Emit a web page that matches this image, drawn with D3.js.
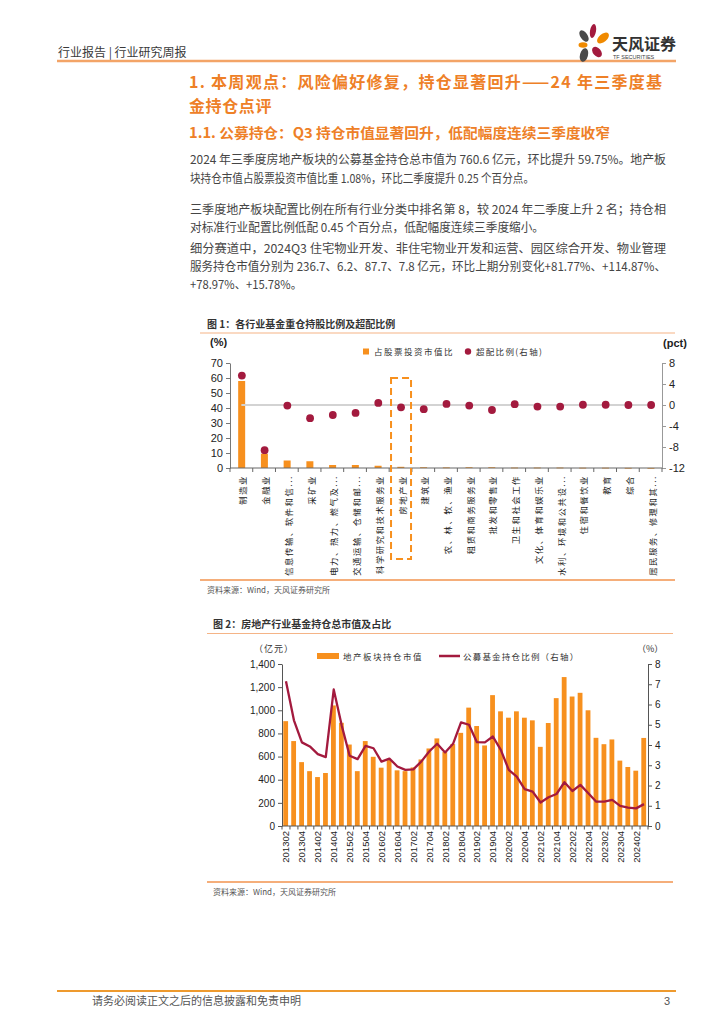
<!DOCTYPE html>
<html><head><meta charset="utf-8">
<script src="https://cdn.jsdelivr.net/npm/d3@7"></script>
<style>
html,body{margin:0;padding:0;background:#fff;}
svg{display:block;}
.cjk{font-family:"Noto Sans CJK SC","Noto Sans",sans-serif;}
.num{font-family:"Liberation Sans",Arial,sans-serif;}
</style></head>
<body>
<svg id="page" width="724" height="1024"></svg>
<script>
// ---------- DATA ----------
const industryCats = ["制造业","金融业","信息传输、软件和信...","采矿业","电力、热力、燃气及...","交通运输、仓储和邮...","科学研究和技术服务业","房地产业","建筑业","农、林、牧、渔业","租赁和商务服务业","批发和零售业","卫生和社会工作","文化、体育和娱乐业","水利、环境和公共设...","住宿和餐饮业","教育","综合","居民服务、修理和其..."];
const holdShare = [58, 9.5, 5, 4.5, 2, 2, 1.5, 0.8, 0.5, 0.4, 0.5, 0.5, 0.3, 0.3, 0.3, 0.2, 0.2, 0.1, 0.05];
const overweight = [5.6, -8.6, -0.1, -2.5, -1.9, -1.5, 0.4, -0.45, -0.8, 0.2, -0.1, -0.95, 0.15, -0.3, -0.3, 0.05, 0.05, 0.0, 0.0];
const leftTicks1 = [0,10,20,30,40,50,60,70];
const rightTicks1 = [-12,-8,-4,0,4,8];

const quarters = ["201302","201303","201304","201401","201402","201403","201404","201501","201502","201503","201504","201601","201602","201603","201604","201701","201702","201703","201704","201801","201802","201803","201804","201901","201902","201903","201904","202001","202002","202003","202004","202101","202102","202103","202104","202201","202202","202203","202204","202301","202302","202303","202304","202401","202402","202403"];
const reValue = [906,734,552,474,423,458,1042,892,704,474,734,598,504,570,481,474,506,575,670,757,639,708,805,1023,864,696,1131,991,936,991,936,913,684,890,1105,1287,1119,1151,1000,762,707,748,565,510,478,761];
const reRatio = [7.15,5.22,4.13,3.93,3.55,3.40,6.74,4.97,3.47,3.30,3.96,3.84,3.18,3.33,2.94,2.77,2.80,3.18,3.68,4.06,3.63,4.06,5.12,5.00,4.14,4.13,4.42,3.76,2.77,2.44,1.82,1.70,1.16,1.42,1.58,2.16,1.73,2.03,1.62,1.20,1.20,1.29,0.99,0.91,0.87,1.08];
const leftTicks2 = [0,200,400,600,800,1000,1200,1400];
const rightTicks2 = [0,1,2,3,4,5,6,7,8];

// ---------- COLORS ----------
const ORANGE = "#F7901E";
const DARKRED = "#A31A3E";
const HEAD = "#EE8027";

const svg = d3.select("#page");

// ---------- HEADER ----------
svg.append("text").attr("class","cjk").attr("x",58).attr("y",57).attr("font-size",12).attr("fill","#3a3a3a").text("行业报告 | 行业研究周报");
svg.append("line").attr("x1",57).attr("x2",676).attr("y1",61).attr("y2",61).attr("stroke","#F3A467").attr("stroke-width",2.5);
const petals = [
  {cx:584,cy:36,rx:3.5,ry:6.5,rot:-35,c:"#4a4a4a"},
  {cx:593,cy:31,rx:3,ry:7,rot:10,c:"#A31A3E"},
  {cx:603,cy:38,rx:4,ry:7,rot:50,c:"#F08A00"},
  {cx:583,cy:45,rx:4.5,ry:2.8,rot:0,c:"#F08A00"},
  {cx:584,cy:55,rx:4,ry:7,rot:15,c:"#4a4a4a"},
  {cx:597,cy:52,rx:4,ry:6,rot:-40,c:"#A31A3E"}
];
svg.selectAll(".petal").data(petals).enter().append("ellipse")
  .attr("cx",d=>d.cx).attr("cy",d=>d.cy).attr("rx",d=>d.rx).attr("ry",d=>d.ry)
  .attr("transform",d=>`rotate(${d.rot},${d.cx},${d.cy})`).attr("fill",d=>d.c);
svg.append("text").attr("class","cjk").attr("x",612).attr("y",50).attr("font-size",16).attr("font-weight","bold").attr("fill","#333").text("天风证券");
svg.append("text").attr("class","num").attr("x",613).attr("y",58.5).attr("font-size",5.5).attr("fill","#444").text("TF SECURITIES");

// ---------- HEADINGS ----------
svg.append("text").attr("class","cjk").attr("x",189).attr("y",88).attr("font-size",16).attr("font-weight","bold").attr("fill",HEAD)
  .attr("textLength",473).attr("lengthAdjust","spacing").text("1. 本周观点：风险偏好修复，持仓显著回升——24 年三季度基");
svg.append("text").attr("class","cjk").attr("x",189).attr("y",111.5).attr("font-size",16).attr("font-weight","bold").attr("fill",HEAD)
  .attr("letter-spacing",0.6).text("金持仓点评");
svg.append("text").attr("class","cjk").attr("x",189).attr("y",138).attr("font-size",14).attr("font-weight","bold").attr("fill",HEAD)
  .attr("textLength",421).attr("lengthAdjust","spacingAndGlyphs").text("1.1. 公募持仓：Q3 持仓市值显著回升，低配幅度连续三季度收窄");

// ---------- BODY ----------
const body = [
  {t:"2024 年三季度房地产板块的公募基金持仓总市值为 760.6 亿元，环比提升 59.75%。地产板", y:164, w:476},
  {t:"块持仓市值占股票投资市值比重 1.08%，环比二季度提升 0.25 个百分点。", y:183, w:344},
  {t:"三季度地产板块配置比例在所有行业分类中排名第 8，较 2024 年二季度上升 2 名；持仓相", y:214, w:476},
  {t:"对标准行业配置比例低配 0.45 个百分点，低配幅度连续三季度缩小。", y:232, w:354},
  {t:"细分赛道中，2024Q3  住宅物业开发、非住宅物业开发和运营、园区综合开发、物业管理", y:253, w:476},
  {t:"服务持仓市值分别为 236.7、6.2、87.7、7.8 亿元，环比上期分别变化+81.77%、+114.87%、", y:271, w:476},
  {t:"+78.97%、+15.78%。", y:289, w:112}
];
svg.selectAll(".body").data(body).enter().append("text").attr("class","cjk")
  .attr("x",190).attr("y",d=>d.y).attr("font-size",12).attr("fill","#454545")
  .attr("textLength",d=>d.w).attr("lengthAdjust","spacingAndGlyphs").text(d=>d.t);

// ---------- FIGURE 1 ----------
svg.append("text").attr("class","cjk").attr("x",207).attr("y",327.5).attr("font-size",10).attr("font-weight","bold").attr("fill","#333").text("图 1：各行业基金重仓持股比例及超配比例");
svg.append("line").attr("x1",200).attr("x2",675).attr("y1",333).attr("y2",333).attr("stroke","#F5B486").attr("stroke-width",1.2);

const x1 = d3.scaleBand().domain(industryCats).range([230,662]);
const yL1 = d3.scaleLinear().domain([0,70]).range([468,363]);
const yR1 = d3.scaleLinear().domain([-12,8]).range([468,363]);
const g1 = svg.append("g");

const axL1 = g1.append("g").attr("transform","translate(230,0)").call(d3.axisLeft(yL1).tickValues(leftTicks1).tickSize(4).tickSizeOuter(0));
axL1.select(".domain").attr("stroke","#777");
axL1.selectAll(".tick line").attr("stroke","#777");
axL1.selectAll(".tick text").attr("class","num").attr("font-size",11).attr("fill","#222");
const axR1 = g1.append("g").attr("transform","translate(662,0)").call(d3.axisRight(yR1).tickValues(rightTicks1).tickFormat(d=>String(d)).tickSize(4).tickSizeOuter(0));
axR1.select(".domain").attr("stroke","#999");
axR1.selectAll(".tick line").attr("stroke","#999");
axR1.selectAll(".tick text").attr("class","num").attr("font-size",11).attr("fill","#222");

g1.append("text").attr("class","num").attr("x",210).attr("y",346).attr("font-size",11).attr("font-weight","bold").attr("fill","#222").text("(%)");
g1.append("text").attr("class","num").attr("x",663).attr("y",347).attr("font-size",11).attr("font-weight","bold").attr("fill","#222").text("(pct)");

g1.selectAll(".bar1").data(holdShare).enter().append("rect")
  .attr("x",(d,i)=>x1(industryCats[i])+x1.bandwidth()/2-3.2).attr("width",7)
  .attr("y",d=>yL1(d)).attr("height",d=>Math.max(468-yL1(d),0.8)).attr("fill",ORANGE);
g1.append("line").attr("x1",230).attr("x2",662).attr("y1",468).attr("y2",468).attr("stroke","#666");
g1.selectAll(".xt1").data(d3.range(industryCats.length+1)).enter().append("line")
  .attr("x1",i=>230+i*x1.step()).attr("x2",i=>230+i*x1.step()).attr("y1",468).attr("y2",472).attr("stroke","#666");
g1.append("line").attr("x1",x1(industryCats[0])+x1.bandwidth()/2).attr("x2",x1(industryCats[industryCats.length-1])+x1.bandwidth()/2)
  .attr("y1",yR1(0)).attr("y2",yR1(0)).attr("stroke","#d3d3d3").attr("stroke-width",2);
g1.selectAll(".dot1").data(overweight).enter().append("circle")
  .attr("cx",(d,i)=>x1(industryCats[i])+x1.bandwidth()/2+0.5).attr("cy",d=>yR1(d)).attr("r",3.9).attr("fill",DARKRED);
g1.selectAll(".cl").data(industryCats).enter().append("text").attr("class","cjk")
  .attr("transform",d=>`translate(${x1(d)+x1.bandwidth()/2+1},475) rotate(-90)`)
  .attr("text-anchor","end").attr("dominant-baseline","central")
  .attr("font-size",8.3).attr("letter-spacing",1.6).attr("fill","#222").text(d=>d);
const hb = x1("房地产业");
g1.append("rect").attr("x",hb+x1.bandwidth()/2-9.5).attr("y",378).attr("width",20).attr("height",181)
  .attr("fill","none").attr("stroke",ORANGE).attr("stroke-width",2).attr("stroke-dasharray","7,4");
g1.append("rect").attr("x",363).attr("y",348.5).attr("width",6).attr("height",6).attr("fill",ORANGE);
g1.append("text").attr("class","cjk").attr("x",374).attr("y",355).attr("font-size",8.5).attr("letter-spacing",1.5).attr("fill","#333").text("占股票投资市值比");
g1.append("circle").attr("cx",468).attr("cy",351.5).attr("r",3.2).attr("fill",DARKRED);
g1.append("text").attr("class","cjk").attr("x",476).attr("y",355).attr("font-size",8.5).attr("letter-spacing",1.3).attr("fill","#333").text("超配比例(右轴)");

svg.append("line").attr("x1",200).attr("x2",675).attr("y1",580).attr("y2",580).attr("stroke","#F5AE7A").attr("stroke-width",2);
svg.append("text").attr("class","cjk").attr("x",207).attr("y",593).attr("font-size",8).attr("fill","#555").text("资料来源：Wind，天风证券研究所");

// ---------- FIGURE 2 ----------
svg.append("text").attr("class","cjk").attr("x",213).attr("y",627.5).attr("font-size",10).attr("font-weight","bold").attr("fill","#333").text("图 2：房地产行业基金持仓总市值及占比");
svg.append("line").attr("x1",207).attr("x2",673).attr("y1",633.5).attr("y2",633.5).attr("stroke","#F5B486").attr("stroke-width",1.2);

const x2 = d3.scaleBand().domain(quarters).range([282,648]);
const yL2 = d3.scaleLinear().domain([0,1400]).range([826,664]);
const yR2 = d3.scaleLinear().domain([0,8]).range([826,664]);
const g2 = svg.append("g");

g2.selectAll(".bar2").data(reValue).enter().append("rect")
  .attr("x",(d,i)=>x2(quarters[i])+x2.bandwidth()/2-2.7).attr("width",4.8)
  .attr("y",d=>yL2(d)).attr("height",d=>826-yL2(d)).attr("fill",ORANGE);

const axL2 = g2.append("g").attr("transform","translate(282,0)").call(d3.axisLeft(yL2).tickValues(leftTicks2).tickFormat(d3.format(",")).tickSize(4).tickSizeOuter(0));
axL2.select(".domain").attr("stroke","#555");
axL2.selectAll(".tick line").attr("stroke","#555");
axL2.selectAll(".tick text").attr("class","num").attr("font-size",10).attr("fill","#222");
const axR2 = g2.append("g").attr("transform","translate(648,0)").call(d3.axisRight(yR2).tickValues(rightTicks2).tickSize(4).tickSizeOuter(0));
axR2.select(".domain").attr("stroke","#555");
axR2.selectAll(".tick line").attr("stroke","#555");
axR2.selectAll(".tick text").attr("class","num").attr("font-size",10).attr("fill","#222");

g2.append("line").attr("x1",282).attr("x2",648).attr("y1",826).attr("y2",826).attr("stroke","#555");
g2.selectAll(".xt2").data(d3.range(quarters.length+1)).enter().append("line")
  .attr("x1",i=>282+i*x2.step()).attr("x2",i=>282+i*x2.step()).attr("y1",826).attr("y2",829.5).attr("stroke","#555");
g2.selectAll(".ql").data(quarters.filter((q,i)=>i%2===0)).enter().append("text").attr("class","num")
  .attr("transform",d=>`translate(${x2(d)+x2.bandwidth()/2},831) rotate(-90)`)
  .attr("text-anchor","end").attr("dominant-baseline","central").attr("font-size",9.5).attr("fill","#222").text(d=>d);

const line2 = d3.line().x((d,i)=>x2(quarters[i])+x2.bandwidth()/2).y(d=>yR2(d));
g2.append("path").datum(reRatio).attr("d",line2).attr("fill","none").attr("stroke",DARKRED).attr("stroke-width",2.3).attr("stroke-linejoin","round");

g2.append("text").attr("class","cjk").attr("x",254).attr("y",652).attr("font-size",9).attr("letter-spacing",1).attr("fill","#333").text("（亿元）");
g2.append("text").attr("class","cjk").attr("x",637).attr("y",652).attr("font-size",9).attr("fill","#333").text("（%）");
g2.append("rect").attr("x",317).attr("y",653).attr("width",22).attr("height",6).attr("fill",ORANGE);
g2.append("text").attr("class","cjk").attr("x",343).attr("y",660).attr("font-size",8.5).attr("letter-spacing",1.5).attr("fill","#333").text("地产板块持仓市值");
g2.append("line").attr("x1",439).attr("x2",460).attr("y1",656).attr("y2",656).attr("stroke",DARKRED).attr("stroke-width",2.5);
g2.append("text").attr("class","cjk").attr("x",463).attr("y",660).attr("font-size",8.5).attr("letter-spacing",1.2).attr("fill","#333").text("公募基金持仓比例（右轴）");

svg.append("line").attr("x1",207).attr("x2",673).attr("y1",882).attr("y2",882).attr("stroke","#F5AE7A").attr("stroke-width",2);
svg.append("text").attr("class","cjk").attr("x",213).attr("y",895).attr("font-size",8).attr("fill","#555").text("资料来源：Wind，天风证券研究所");

// ---------- FOOTER ----------
svg.append("line").attr("x1",57).attr("x2",676).attr("y1",991).attr("y2",991).attr("stroke","#EE9A2E").attr("stroke-width",2);
svg.append("text").attr("class","cjk").attr("x",92).attr("y",1005).attr("font-size",11).attr("fill","#555").text("请务必阅读正文之后的信息披露和免责申明");
svg.append("text").attr("class","num").attr("x",664).attr("y",1005).attr("font-size",11).attr("fill","#555").text("3");
</script>
</body></html>
